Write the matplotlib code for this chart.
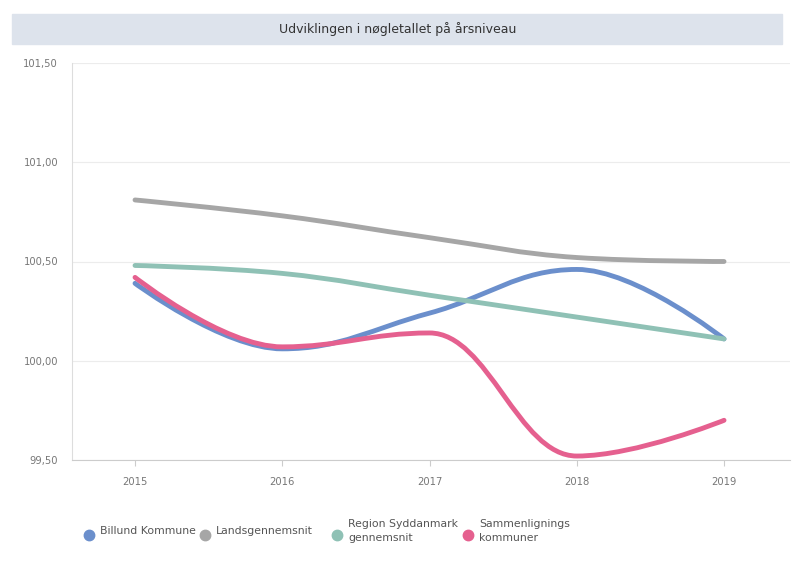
import numpy as np
import matplotlib.pyplot as plt
from matplotlib.path import Path
from matplotlib.patches import PathPatch, Rectangle

years = [2015, 2016, 2017, 2018, 2019]
billund = [100.39, 100.06, 100.24, 100.46, 100.11]
lands = [100.81, 100.73, 100.62, 100.52, 100.50]
region = [100.48, 100.44, 100.33, 100.22, 100.11]
sammen = [100.42, 100.07, 100.14, 99.52, 99.70]

series_names = ['Billund Kommune', 'Landsgennemsnit', 'Region Syddanmark\ngennemsnit',
                'Sammenlignings\nkommuner']
series_values = [billund, lands, region, sammen]
colors = ['#6b8fcc', '#a6a6a6', '#8fc1b5', '#e5608f']
y_ticks = [99.5, 100.0, 100.5, 101.0, 101.5]


def spline_path(xs, ys, smoothing=1.5):
    # highcharts-style spline: cubic bezier with control points through each point
    n = len(xs)
    denom = smoothing + 1
    left = [None] * n
    right = [None] * n
    for i in range(1, n - 1):
        x, y = xs[i], ys[i]
        lx, ly = xs[i - 1], ys[i - 1]
        nx, ny = xs[i + 1], ys[i + 1]
        lcx = (smoothing * x + lx) / denom
        lcy = (smoothing * y + ly) / denom
        rcx = (smoothing * x + nx) / denom
        rcy = (smoothing * y + ny) / denom
        corr = (rcy - lcy) * (rcx - x) / (rcx - lcx) + y - rcy
        lcy += corr
        rcy += corr
        if lcy > ly and lcy > y:
            lcy = max(ly, y)
            rcy = 2 * y - lcy
        elif lcy < ly and lcy < y:
            lcy = min(ly, y)
            rcy = 2 * y - lcy
        if rcy > ny and rcy > y:
            rcy = max(ny, y)
            lcy = 2 * y - rcy
        elif rcy < ny and rcy < y:
            rcy = min(ny, y)
            lcy = 2 * y - rcy
        left[i] = (lcx, lcy)
        right[i] = (rcx, rcy)
    verts = [(xs[0], ys[0])]
    codes = [Path.MOVETO]
    for i in range(1, n):
        c1 = right[i - 1] if right[i - 1] else (xs[i - 1], ys[i - 1])
        c2 = left[i] if left[i] else (xs[i], ys[i])
        verts += [c1, c2, (xs[i], ys[i])]
        codes += [Path.CURVE4] * 3
    return Path(verts, codes)


fig = plt.figure(figsize=(7.98, 5.62), dpi=100)
ax = fig.add_axes([72 / 798, 1 - 460 / 562, 718 / 798, 397 / 562])

for vals, c in zip(series_values, colors):
    ax.add_patch(PathPatch(spline_path(years, vals), fill=False, edgecolor=c,
                           lw=3.5, capstyle='round', joinstyle='round', zorder=3))

ax.set_xlim(2014.572, 2019.448)
ax.set_ylim(99.5, 101.5)
ax.set_xticks(years)
ax.set_xticklabels([str(y) for y in years])
ax.set_yticks(y_ticks)
ax.set_yticklabels([f'{v:.2f}'.replace('.', ',') for v in y_ticks])
ax.tick_params(axis='y', length=0, pad=10, labelsize=7.2, labelcolor='#777777')
ax.tick_params(axis='x', length=4, color='#cccccc', pad=8, labelsize=7.2, labelcolor='#777777')
ax.grid(axis='y', color='#ececec', lw=0.8)
for s in ['top', 'right']:
    ax.spines[s].set_visible(False)
ax.spines['left'].set_color('#dddddd')
ax.spines['bottom'].set_color('#cccccc')
ax.set_axisbelow(True)

# title band
fig.add_artist(Rectangle((12 / 798, 1 - 44 / 562), 770 / 798, 30 / 562,
                         transform=fig.transFigure, color='#dde3ec', zorder=0))
fig.text(398 / 798, 1 - 29 / 562, 'Udviklingen i nøgletallet på årsniveau',
         ha='center', va='center', fontsize=9, color='#333333')

# legend
leg_x = [89, 205, 337, 468]
for name, c, lx in zip(series_names, colors, leg_x):
    fig.add_artist(plt.Line2D([lx / 798], [1 - 535 / 562], marker='o', ms=7.5,
                              color=c, transform=fig.transFigure))
    fig.text((lx + 11) / 798, 1 - 531 / 562, name, ha='left', va='center',
             fontsize=7.8, color='#555555', linespacing=1.4)

fig.savefig('out.png', dpi=100)
